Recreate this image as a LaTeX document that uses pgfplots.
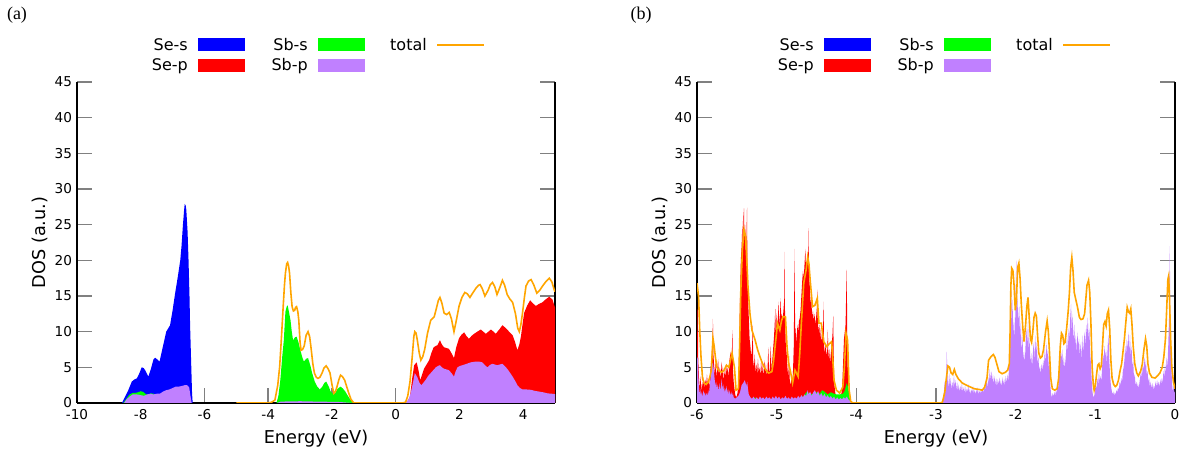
\documentclass[border=0pt]{standalone}
\usepackage{pgfplots}
\pgfplotsset{compat=1.18}
\usepackage{fontspec}
\setmainfont{DejaVu Sans}
\newfontfamily\panelfont{Liberation Serif}

\definecolor{cSes}{RGB}{0,0,255}
\definecolor{cSep}{RGB}{255,0,0}
\definecolor{cSbs}{RGB}{0,255,0}
\definecolor{cSbp}{RGB}{192,128,255}
\definecolor{cTot}{RGB}{255,165,0}
\definecolor{cTick}{RGB}{128,128,128}

\pgfplotsset{
  dosaxis/.style={
    scale only axis, width=478bp, height=321bp, anchor=south west,
    ymin=0, ymax=45, ytick={0,5,...,45},
    axis x line*=bottom, axis y line*=box,
    axis line style={black, line width=1.2bp},
    tick align=inside, major tick length=15bp,
    major tick style={cTick, line width=1.5bp},
    tick label style={font=\fontsize{13.6bp}{16bp}\selectfont},
    xticklabel style={yshift=-3bp},
    yticklabel style={xshift=-1.5bp},
    /pgf/number format/assume math mode=true,
    label style={font=\fontsize{17.7bp}{20bp}\selectfont},
    xlabel={Energy (eV)}, ylabel={DOS (a.u.)},
    xlabel style={yshift=-3bp},
  },
  pdos/.style={draw=none, fill=#1},
  tot/.style={cTot, line width=1.6bp},
}

\newcommand{\legendblock}[1]{%
  \begin{scope}[xshift=#1, font=\fontsize{16bp}{19bp}\selectfont]
    \node[anchor=east, inner sep=0pt] at (188bp,408bp) {Se-s};
    \node[anchor=east, inner sep=0pt] at (188bp,387bp) {Se-p};
    \fill[cSes] (198bp,401.5bp) rectangle (245bp,414.5bp);
    \fill[cSep] (198bp,380.5bp) rectangle (245bp,393.5bp);
    \node[anchor=east, inner sep=0pt] at (308bp,408bp) {Sb-s};
    \node[anchor=east, inner sep=0pt] at (308bp,387bp) {Sb-p};
    \fill[cSbs] (318bp,401.5bp) rectangle (365bp,414.5bp);
    \fill[cSbp] (318bp,380.5bp) rectangle (365bp,393.5bp);
    \node[anchor=east, inner sep=0pt] at (427bp,408bp) {total};
    \draw[cTot, line width=1.6bp] (437bp,408bp) -- (484bp,408bp);
  \end{scope}}

\begin{document}
\begin{tikzpicture}
\path[use as bounding box] (0,0) rectangle (1190bp,453bp);

% ---------------- panel (a) ----------------
\begin{axis}[dosaxis, at={(77bp,50bp)}, xmin=-10, xmax=5, xtick={-10,-8,...,4}]
% Se-s
\addplot[pdos=cSes] coordinates {(-8.59,0) (-8.50,0.8) (-8.39,1.8) (-8.28,3.0) (-8.20,3.3) (-8.12,3.45) (-8.04,4.2) (-7.97,5.0) (-7.91,4.9) (-7.86,4.6) (-7.76,3.7) (-7.68,4.8) (-7.60,6.1) (-7.55,6.35) (-7.48,6.1) (-7.41,5.8) (-7.30,8.0) (-7.20,10.0) (-7.08,10.9) (-7.00,13.0) (-6.92,15.4) (-6.84,17.6) (-6.76,20.0) (-6.72,22.0) (-6.68,24.7) (-6.64,27.0) (-6.62,27.9) (-6.59,27.7) (-6.57,27.1) (-6.53,24.0) (-6.50,20.0) (-6.47,15.0) (-6.45,10.7) (-6.42,6.0) (-6.39,1.4) (-6.37,0)} \closedcycle;
% Se-p
\addplot[pdos=cSep] coordinates {(0.31,0) (0.38,0.3) (0.45,0.9) (0.52,3.5) (0.58,5.3) (0.66,5.7) (0.72,4.5) (0.77,3.2) (0.83,4.0) (0.89,4.8) (0.97,5.4) (1.05,6.0) (1.12,7.0) (1.19,7.8) (1.26,8.0) (1.31,8.1) (1.39,8.8) (1.45,8.2) (1.52,7.8) (1.60,7.7) (1.67,7.6) (1.75,7.0) (1.83,6.3) (1.90,7.8) (1.99,9.1) (2.07,9.6) (2.15,9.9) (2.22,9.4) (2.30,9.0) (2.38,9.4) (2.46,9.7) (2.56,10.0) (2.67,10.3) (2.75,10.0) (2.83,9.7) (2.91,10.0) (2.99,10.3) (3.07,10.0) (3.14,9.7) (3.25,10.3) (3.35,10.9) (3.43,10.6) (3.50,10.3) (3.58,9.9) (3.67,9.5) (3.75,8.5) (3.82,7.4) (3.88,8.2) (3.93,9.3) (3.98,11.0) (4.03,12.6) (4.12,13.6) (4.22,14.4) (4.30,14.0) (4.40,13.6) (4.50,13.9) (4.60,14.1) (4.70,14.5) (4.82,14.9) (4.92,14.5) (5.0,13.4)} \closedcycle;
% Sb-s
\addplot[pdos=cSbs] coordinates {(-8.55,0) (-8.45,0.6) (-8.35,1.2) (-8.25,1.4) (-8.12,1.45) (-8.0,1.65) (-7.92,1.55) (-7.83,1.2) (-7.76,1.2) (-7.68,1.35) (-7.60,1.3) (-7.50,1.1) (-7.40,0)} \closedcycle;
\addplot[pdos=cSbs] coordinates {(-3.74,0) (-3.68,1.0) (-3.62,3.2) (-3.56,6.5) (-3.51,8.8) (-3.46,12.8) (-3.42,13.5) (-3.39,13.7) (-3.35,12.8) (-3.30,11.6) (-3.26,10.0) (-3.22,8.8) (-3.16,9.2) (-3.11,9.3) (-3.05,8.5) (-2.99,7.4) (-2.93,6.4) (-2.88,5.8) (-2.81,6.2) (-2.75,6.3) (-2.68,5.3) (-2.62,4.2) (-2.54,3.0) (-2.46,2.3) (-2.38,1.9) (-2.30,2.3) (-2.24,2.8) (-2.18,3.0) (-2.10,2.3) (-2.04,1.6) (-1.97,1.3) (-1.90,1.4) (-1.82,2.0) (-1.73,2.3) (-1.65,2.0) (-1.58,1.6) (-1.50,1.0) (-1.41,0.4) (-1.33,0)} \closedcycle;
% Sb-p
\addplot[pdos=cSbp] coordinates {(-8.52,0) (-8.45,0.5) (-8.35,0.9) (-8.25,1.2) (-8.12,1.2) (-8.0,1.1) (-7.9,1.0) (-7.8,1.2) (-7.7,1.3) (-7.6,1.2) (-7.5,1.3) (-7.4,1.3) (-7.3,1.6) (-7.2,1.8) (-7.1,1.9) (-7.0,2.1) (-6.9,2.3) (-6.8,2.3) (-6.7,2.4) (-6.62,2.5) (-6.55,2.5) (-6.48,2.2) (-6.44,1.0) (-6.40,0)} \closedcycle;
\addplot[pdos=cSbp] coordinates {(-3.72,0) (-3.6,0.2) (-3.0,0.25) (-2.5,0.2) (-1.8,0.15) (-1.35,0)} \closedcycle;
\addplot[pdos=cSbp] coordinates {(0.31,0) (0.40,0.5) (0.47,1.35) (0.55,3.0) (0.60,4.2) (0.68,3.6) (0.75,2.8) (0.81,2.5) (0.88,2.9) (0.95,3.3) (1.02,3.8) (1.10,4.2) (1.18,4.6) (1.26,5.0) (1.33,5.2) (1.39,5.3) (1.45,5.0) (1.52,4.8) (1.60,4.7) (1.67,4.6) (1.75,4.2) (1.83,3.7) (1.88,4.4) (1.94,5.0) (2.02,5.2) (2.10,5.3) (2.23,5.5) (2.36,5.7) (2.50,5.8) (2.62,5.8) (2.72,5.7) (2.80,5.3) (2.88,5.0) (2.95,5.3) (3.03,5.5) (3.11,5.4) (3.19,5.3) (3.27,5.4) (3.35,5.5) (3.42,5.2) (3.50,4.8) (3.58,4.3) (3.67,3.7) (3.75,3.1) (3.82,2.5) (3.90,2.1) (3.98,1.9) (4.10,1.9) (4.24,1.85) (4.37,1.7) (4.50,1.6) (4.63,1.5) (4.77,1.35) (4.90,1.3) (5.0,1.25)} \closedcycle;
% total
\addplot[tot] coordinates {(-5,0) (-4.0,0) (-3.90,0.1) (-3.79,0.4) (-3.70,2.5) (-3.64,5.1) (-3.58,9.5) (-3.53,13.5) (-3.49,16.5) (-3.46,18.2) (-3.42,19.5) (-3.39,19.7) (-3.36,19.2) (-3.33,18.2) (-3.29,15.5) (-3.25,13.5) (-3.21,12.9) (-3.17,13.0) (-3.14,13.4) (-3.11,13.5) (-3.07,12.8) (-3.04,11.6) (-3.00,8.5) (-2.97,7.4) (-2.92,7.5) (-2.87,8.0) (-2.81,9.5) (-2.75,10.0) (-2.70,9.3) (-2.66,7.9) (-2.60,5.5) (-2.55,4.2) (-2.49,3.6) (-2.44,3.45) (-2.38,3.6) (-2.31,4.2) (-2.25,4.9) (-2.18,5.2) (-2.12,4.8) (-2.06,4.2) (-2.00,2.6) (-1.94,1.35) (-1.89,1.6) (-1.84,2.3) (-1.78,3.3) (-1.73,3.9) (-1.67,3.7) (-1.60,3.2) (-1.53,2.2) (-1.47,1.35) (-1.40,0.5) (-1.31,0) (0.20,0) (0.31,0.1) (0.38,1.0) (0.45,3.0) (0.52,6.5) (0.57,9.3) (0.60,10.0) (0.64,9.8) (0.68,8.8) (0.74,7.0) (0.79,6.0) (0.85,6.5) (0.91,7.5) (1.00,9.8) (1.10,11.6) (1.21,12.1) (1.28,13.3) (1.34,14.4) (1.39,14.8) (1.45,14.0) (1.52,12.6) (1.60,12.4) (1.68,12.7) (1.75,11.8) (1.83,10.0) (1.90,11.5) (1.99,13.6) (2.08,14.8) (2.17,15.5) (2.25,15.3) (2.33,14.8) (2.43,15.5) (2.52,16.1) (2.60,16.5) (2.65,16.6) (2.72,16.0) (2.80,15.0) (2.90,15.8) (2.97,16.6) (3.04,16.9) (3.11,16.3) (3.18,15.2) (3.27,16.2) (3.35,17.2) (3.42,16.5) (3.50,15.2) (3.58,14.6) (3.67,14.1) (3.76,12.5) (3.83,10.5) (3.88,10.0) (3.93,11.0) (3.98,12.6) (4.04,14.8) (4.09,16.4) (4.17,17.1) (4.25,17.3) (4.33,16.6) (4.43,15.4) (4.52,15.8) (4.61,16.4) (4.71,17.0) (4.82,17.5) (4.90,17.0) (4.98,15.8) (5.0,15.6)};
\end{axis}

% ---------------- panel (b) ----------------
\begin{axis}[dosaxis, at={(697bp,50bp)}, xmin=-6, xmax=0, xtick={-6,-5,...,0}]
% Se-p
\addplot[pdos=cSep] coordinates {(-6.000,0) (-6.000,13.0) (-5.995,8.0) (-5.990,14.0) (-5.985,6.5) (-5.975,3.5) (-5.965,2.0) (-5.955,3.8) (-5.945,1.5) (-5.935,3.0) (-5.925,2.2) (-5.915,3.6) (-5.905,2.0) (-5.895,3.3) (-5.885,2.4) (-5.875,4.0) (-5.865,2.6) (-5.855,3.1) (-5.845,2.2) (-5.835,4.2) (-5.825,5.5) (-5.815,6.8) (-5.805,9.0) (-5.800,11.8) (-5.795,7.0) (-5.785,5.2) (-5.775,4.0) (-5.765,6.0) (-5.755,3.5) (-5.745,4.8) (-5.735,6.2) (-5.725,3.8) (-5.715,5.0) (-5.705,3.2) (-5.695,5.8) (-5.685,4.0) (-5.675,5.2) (-5.665,3.0) (-5.655,4.5) (-5.645,3.6) (-5.635,5.5) (-5.625,4.2) (-5.615,5.0) (-5.605,3.5) (-5.595,5.8) (-5.585,6.6) (-5.575,7.2) (-5.565,6.0) (-5.555,10.2) (-5.550,5.0) (-5.540,3.0) (-5.530,2.0) (-5.520,1.2) (-5.510,0.8) (-5.500,1.0) (-5.490,1.5) (-5.480,3.0) (-5.470,8.0) (-5.460,15.0) (-5.450,20.0) (-5.440,22.0) (-5.430,25.5) (-5.425,20.0) (-5.418,26.0) (-5.410,27.3) (-5.405,22.0) (-5.398,25.0) (-5.390,23.5) (-5.385,18.0) (-5.378,24.0) (-5.372,27.4) (-5.366,17.0) (-5.360,15.0) (-5.350,12.0) (-5.340,9.0) (-5.330,8.0) (-5.320,6.5) (-5.310,7.5) (-5.300,10.9) (-5.295,6.0) (-5.285,5.0) (-5.275,6.8) (-5.265,4.2) (-5.255,5.5) (-5.245,4.0) (-5.235,6.2) (-5.225,4.3) (-5.215,5.0) (-5.205,3.8) (-5.195,6.0) (-5.185,4.0) (-5.175,5.3) (-5.165,3.6) (-5.155,6.0) (-5.145,4.2) (-5.135,5.5) (-5.125,3.8) (-5.115,4.6) (-5.105,7.8) (-5.095,4.0) (-5.085,5.0) (-5.075,8.0) (-5.065,4.5) (-5.055,6.0) (-5.045,7.5) (-5.035,9.0) (-5.025,11.0) (-5.018,13.2) (-5.010,9.5) (-5.000,12.6) (-4.992,10.5) (-4.985,11.8) (-4.975,14.2) (-4.968,10.8) (-4.960,12.0) (-4.950,14.7) (-4.943,12.0) (-4.935,12.5) (-4.925,11.5) (-4.915,13.0) (-4.905,14.5) (-4.900,21.2) (-4.895,12.0) (-4.885,8.0) (-4.875,7.0) (-4.865,5.0) (-4.855,3.5) (-4.845,6.6) (-4.835,3.0) (-4.825,2.5) (-4.815,3.8) (-4.805,2.6) (-4.795,4.5) (-4.785,8.0) (-4.775,21.6) (-4.768,9.0) (-4.760,10.5) (-4.750,8.2) (-4.740,11.0) (-4.730,10.0) (-4.720,11.5) (-4.710,11.9) (-4.700,13.0) (-4.690,15.0) (-4.680,17.0) (-4.670,18.5) (-4.660,17.5) (-4.650,19.5) (-4.640,21.6) (-4.633,19.0) (-4.625,19.8) (-4.615,20.0) (-4.605,21.0) (-4.600,24.5) (-4.595,18.0) (-4.585,16.5) (-4.575,14.0) (-4.565,14.7) (-4.555,12.0) (-4.545,13.0) (-4.535,11.5) (-4.525,12.5) (-4.515,11.0) (-4.505,12.0) (-4.495,13.5) (-4.490,15.9) (-4.485,12.0) (-4.475,10.0) (-4.465,11.0) (-4.455,9.0) (-4.445,10.5) (-4.435,8.5) (-4.425,9.5) (-4.415,11.5) (-4.410,14.2) (-4.405,8.0) (-4.395,7.0) (-4.385,8.5) (-4.375,6.5) (-4.365,7.5) (-4.358,10.3) (-4.350,6.0) (-4.340,7.5) (-4.330,5.5) (-4.320,7.0) (-4.310,8.0) (-4.300,9.5) (-4.290,12.2) (-4.283,6.0) (-4.275,2.5) (-4.265,1.5) (-4.255,0.8) (-4.245,0.6) (-4.235,0.7) (-4.225,0.6) (-4.215,0.8) (-4.205,1.0) (-4.195,1.0) (-4.185,1.5) (-4.175,3.0) (-4.165,6.0) (-4.155,9.0) (-4.145,10.0) (-4.135,11.0) (-4.128,15.0) (-4.120,18.7) (-4.115,10.0) (-4.105,3.0) (-4.095,0.8) (-4.085,0.2) (-4.075,0.0)} \closedcycle;
% Sb-s
\addplot[pdos=cSbs] coordinates {(-5.32,0) (-5.30,0.4) (-5.27,0.8) (-5.25,0.3) (-5.20,0.4) (-4.80,0.4) (-4.70,0.6) (-4.66,1.0) (-4.62,1.6) (-4.58,1.2) (-4.55,1.3) (-4.50,1.5) (-4.46,1.3) (-4.43,1.8) (-4.40,1.6) (-4.36,1.2) (-4.32,1.5) (-4.28,1.3) (-4.25,1.2) (-4.21,1.2) (-4.17,1.3) (-4.15,1.6) (-4.13,2.4) (-4.12,2.8) (-4.10,2.0) (-4.08,0.5) (-4.07,0)} \closedcycle;
% Sb-p
\addplot[pdos=cSbp] coordinates {(-6.0,0) (-6.0,6.5) (-5.99,6.2) (-5.98,3.0) (-5.97,1.2) (-5.96,2.0) (-5.95,1.0) (-5.94,1.6) (-5.93,0.8) (-5.92,1.8) (-5.91,1.2) (-5.90,1.5) (-5.89,0.9) (-5.88,1.4) (-5.87,1.0) (-5.86,1.8) (-5.85,1.2) (-5.84,2.5) (-5.83,3.5) (-5.82,4.5) (-5.81,5.5) (-5.80,5.6) (-5.79,4.8) (-5.78,3.5) (-5.77,2.4) (-5.76,3.0) (-5.75,2.0) (-5.74,2.6) (-5.73,1.6) (-5.72,2.8) (-5.71,1.8) (-5.70,2.4) (-5.69,3.4) (-5.68,2.0) (-5.67,2.6) (-5.66,1.5) (-5.65,2.2) (-5.64,1.6) (-5.63,2.4) (-5.62,1.4) (-5.61,2.0) (-5.60,1.2) (-5.59,1.8) (-5.58,1.0) (-5.57,1.6) (-5.56,1.0) (-5.55,1.4) (-5.54,0.8) (-5.52,0.6) (-5.50,0.8) (-5.48,1.0) (-5.46,1.5) (-5.44,2.5) (-5.42,2.8) (-5.40,3.2) (-5.38,2.4) (-5.37,3.0) (-5.36,2.0) (-5.35,1.2) (-5.33,0.8) (-5.31,0.6) (-5.29,0.9) (-5.27,0.5) (-5.25,0.8) (-5.23,0.5) (-5.21,0.9) (-5.19,0.6) (-5.17,0.8) (-5.15,0.5) (-5.13,0.9) (-5.11,0.6) (-5.09,0.8) (-5.07,0.5) (-5.05,0.9) (-5.03,0.6) (-5.01,1.0) (-4.99,0.6) (-4.97,0.9) (-4.95,0.5) (-4.93,0.8) (-4.91,0.6) (-4.89,1.0) (-4.87,0.6) (-4.85,0.8) (-4.83,0.5) (-4.81,0.9) (-4.79,0.6) (-4.77,0.8) (-4.75,0.6) (-4.73,1.0) (-4.71,0.7) (-4.69,1.1) (-4.67,0.8) (-4.65,1.2) (-4.63,1.0) (-4.61,1.8) (-4.60,1.2) (-4.58,1.6) (-4.56,1.0) (-4.54,1.5) (-4.52,1.8) (-4.50,1.2) (-4.48,1.7) (-4.46,1.0) (-4.44,1.4) (-4.42,0.9) (-4.40,1.3) (-4.38,0.8) (-4.36,1.1) (-4.34,0.7) (-4.32,1.0) (-4.30,0.6) (-4.28,0.9) (-4.26,0.5) (-4.24,0.8) (-4.22,0.5) (-4.20,0.7) (-4.18,0.5) (-4.16,0.8) (-4.14,0.6) (-4.12,0.9) (-4.10,0.5) (-4.08,0.3) (-4.06,0)} \closedcycle;
\addplot[pdos=cSbp] coordinates {(-2.93,0) (-2.91,0.5) (-2.89,3.0) (-2.875,2.0) (-2.865,7.2) (-2.855,3.5) (-2.845,2.0) (-2.835,4.2) (-2.825,2.2) (-2.815,3.5) (-2.805,1.8) (-2.795,3.0) (-2.785,2.0) (-2.775,4.0) (-2.765,2.3) (-2.755,3.2) (-2.745,1.8) (-2.735,3.0) (-2.725,1.6) (-2.715,2.6) (-2.705,1.5) (-2.695,2.4) (-2.685,1.6) (-2.675,2.8) (-2.665,1.5) (-2.655,2.2) (-2.645,1.4) (-2.635,2.5) (-2.625,1.3) (-2.615,2.0) (-2.605,1.6) (-2.595,2.6) (-2.585,1.4) (-2.575,2.0) (-2.565,1.2) (-2.555,1.9) (-2.545,1.5) (-2.535,2.4) (-2.525,1.3) (-2.515,1.8) (-2.505,1.2) (-2.495,1.9) (-2.485,1.4) (-2.475,2.2) (-2.465,1.2) (-2.455,1.7) (-2.445,1.3) (-2.435,2.0) (-2.425,1.4) (-2.415,1.9) (-2.405,1.5) (-2.395,2.2) (-2.385,1.8) (-2.375,2.5) (-2.365,3.0) (-2.355,2.2) (-2.345,3.6) (-2.335,2.8) (-2.325,4.8) (-2.315,3.2) (-2.305,4.5) (-2.295,3.0) (-2.285,4.0) (-2.275,2.6) (-2.265,3.8) (-2.255,2.5) (-2.245,3.5) (-2.235,2.2) (-2.225,3.3) (-2.215,2.6) (-2.205,3.6) (-2.195,2.5) (-2.185,3.2) (-2.175,2.2) (-2.165,3.6) (-2.155,2.6) (-2.145,3.4) (-2.135,2.4) (-2.125,3.8) (-2.115,2.8) (-2.105,4.0) (-2.095,3.0) (-2.085,4.5) (-2.075,7.0) (-2.065,12.0) (-2.055,15.8) (-2.048,11.0) (-2.04,14.5) (-2.03,9.5) (-2.02,12.0) (-2.01,8.5) (-2.00,16.0) (-1.993,20.0) (-1.985,12.0) (-1.975,15.0) (-1.965,11.0) (-1.955,13.5) (-1.945,9.0) (-1.935,11.5) (-1.925,7.0) (-1.915,9.5) (-1.905,6.0) (-1.895,7.2) (-1.885,5.5) (-1.875,8.5) (-1.865,10.5) (-1.855,8.0) (-1.845,11.5) (-1.835,7.5) (-1.825,9.0) (-1.815,5.5) (-1.805,7.0) (-1.795,5.0) (-1.785,6.8) (-1.775,8.5) (-1.765,6.0) (-1.755,9.5) (-1.745,7.0) (-1.735,8.5) (-1.725,5.5) (-1.715,6.5) (-1.705,4.5) (-1.695,5.2) (-1.685,4.0) (-1.675,5.5) (-1.665,4.5) (-1.655,6.0) (-1.645,5.0) (-1.635,7.5) (-1.625,5.5) (-1.615,8.5) (-1.605,6.5) (-1.595,7.5) (-1.585,5.0) (-1.575,5.5) (-1.565,2.5) (-1.555,1.2) (-1.545,0.8) (-1.535,1.4) (-1.525,0.9) (-1.515,1.6) (-1.505,1.0) (-1.495,1.8) (-1.485,1.4) (-1.475,2.5) (-1.465,2.2) (-1.455,4.0) (-1.445,5.5) (-1.435,8.0) (-1.425,6.0) (-1.415,7.5) (-1.405,5.0) (-1.395,6.5) (-1.385,4.8) (-1.375,6.0) (-1.365,7.5) (-1.355,9.5) (-1.345,7.0) (-1.335,10.5) (-1.325,9.0) (-1.315,12.0) (-1.305,13.9) (-1.295,10.0) (-1.285,12.5) (-1.275,8.5) (-1.265,11.0) (-1.255,8.0) (-1.245,9.5) (-1.235,7.0) (-1.225,10.0) (-1.215,8.0) (-1.205,9.0) (-1.195,6.5) (-1.185,8.5) (-1.175,6.0) (-1.165,9.5) (-1.155,7.0) (-1.145,8.5) (-1.135,10.0) (-1.125,8.0) (-1.115,11.0) (-1.105,9.5) (-1.095,12.0) (-1.085,9.0) (-1.075,10.5) (-1.065,7.0) (-1.055,5.5) (-1.045,3.0) (-1.035,1.5) (-1.025,0.8) (-1.015,1.0) (-1.005,1.5) (-0.995,2.5) (-0.985,2.0) (-0.975,3.5) (-0.965,2.5) (-0.955,4.5) (-0.945,3.0) (-0.935,3.8) (-0.925,3.0) (-0.915,5.0) (-0.905,7.0) (-0.895,6.0) (-0.885,8.0) (-0.875,6.5) (-0.865,7.5) (-0.855,5.5) (-0.845,8.0) (-0.835,9.5) (-0.825,6.0) (-0.815,4.0) (-0.805,2.5) (-0.795,1.8) (-0.785,1.2) (-0.775,1.6) (-0.765,1.0) (-0.755,1.5) (-0.745,1.2) (-0.735,1.8) (-0.725,1.5) (-0.715,2.2) (-0.705,1.8) (-0.695,3.0) (-0.685,2.5) (-0.675,3.5) (-0.665,2.8) (-0.655,4.5) (-0.645,5.0) (-0.635,6.0) (-0.625,8.0) (-0.615,6.5) (-0.605,9.0) (-0.595,7.5) (-0.585,10.0) (-0.575,7.0) (-0.565,9.5) (-0.555,6.5) (-0.545,8.0) (-0.535,5.0) (-0.525,6.0) (-0.515,3.5) (-0.505,4.0) (-0.495,2.5) (-0.485,3.0) (-0.475,2.2) (-0.465,2.8) (-0.455,2.0) (-0.445,3.0) (-0.435,3.8) (-0.425,4.5) (-0.415,3.5) (-0.405,5.5) (-0.395,4.5) (-0.385,6.5) (-0.375,5.0) (-0.365,6.0) (-0.355,4.0) (-0.345,4.5) (-0.335,3.0) (-0.325,3.5) (-0.315,2.2) (-0.305,3.0) (-0.295,2.0) (-0.285,2.8) (-0.275,1.8) (-0.265,2.5) (-0.255,2.0) (-0.245,3.0) (-0.235,2.2) (-0.225,3.2) (-0.215,2.4) (-0.205,3.0) (-0.195,2.2) (-0.185,3.3) (-0.175,2.6) (-0.165,3.5) (-0.155,2.8) (-0.145,4.5) (-0.135,3.5) (-0.125,5.5) (-0.115,4.0) (-0.105,6.5) (-0.095,5.0) (-0.085,8.0) (-0.075,12.0) (-0.065,22.0) (-0.058,10.0) (-0.050,6.0) (-0.040,3.5) (-0.030,1.5) (-0.020,2.5) (-0.010,1.2) (0.000,2.0)} \closedcycle;
% total
\addplot[tot] coordinates {(-6.0,16.8) (-5.98,14.9) (-5.965,10.0) (-5.95,6.5) (-5.93,3.4) (-5.91,2.8) (-5.885,2.6) (-5.86,2.9) (-5.84,3.6) (-5.82,4.6) (-5.80,9.1) (-5.785,8.0) (-5.77,6.5) (-5.75,5.0) (-5.73,4.6) (-5.69,4.3) (-5.66,4.6) (-5.63,5.3) (-5.60,5.0) (-5.58,6.0) (-5.56,7.0) (-5.545,6.0) (-5.53,5.0) (-5.51,1.8) (-5.48,2.0) (-5.465,8.0) (-5.45,15.8) (-5.43,21.5) (-5.41,24.3) (-5.39,23.4) (-5.375,20.0) (-5.36,16.3) (-5.335,12.5) (-5.31,10.2) (-5.27,8.8) (-5.24,7.5) (-5.21,6.5) (-5.18,5.6) (-5.15,4.9) (-5.12,4.4) (-5.10,4.2) (-5.06,4.4) (-5.04,5.8) (-5.02,7.9) (-5.00,10.0) (-4.99,11.2) (-4.97,10.5) (-4.96,10.2) (-4.94,11.5) (-4.92,12.1) (-4.89,12.1) (-4.87,7.9) (-4.85,5.5) (-4.83,4.6) (-4.80,2.8) (-4.77,4.6) (-4.73,3.7) (-4.71,7.0) (-4.69,11.2) (-4.66,16.8) (-4.63,18.7) (-4.61,20.5) (-4.595,19.5) (-4.58,17.3) (-4.55,13.5) (-4.52,13.7) (-4.49,14.7) (-4.47,11.2) (-4.44,11.2) (-4.41,8.6) (-4.37,7.9) (-4.34,8.3) (-4.31,8.6) (-4.295,6.0) (-4.28,3.2) (-4.25,1.8) (-4.21,1.4) (-4.17,2.2) (-4.15,5.0) (-4.13,9.8) (-4.11,8.8) (-4.09,1.8) (-4.07,0.2) (-4.04,0) (-2.95,0) (-2.92,0.1) (-2.89,1.5) (-2.87,3.5) (-2.85,5.2) (-2.83,5.0) (-2.81,4.2) (-2.79,4.0) (-2.77,4.7) (-2.75,4.0) (-2.72,3.4) (-2.67,2.8) (-2.60,2.4) (-2.52,2.0) (-2.46,1.9) (-2.42,1.8) (-2.39,2.2) (-2.36,3.5) (-2.34,6.0) (-2.31,6.5) (-2.28,6.8) (-2.26,6.4) (-2.24,5.6) (-2.21,4.4) (-2.17,4.1) (-2.13,4.3) (-2.10,4.6) (-2.08,5.5) (-2.07,10.0) (-2.06,16.5) (-2.05,18.9) (-2.035,18.6) (-2.02,16.5) (-2.005,13.0) (-1.99,14.5) (-1.975,19.0) (-1.96,19.6) (-1.945,17.5) (-1.93,14.0) (-1.91,10.5) (-1.895,8.6) (-1.875,11.0) (-1.86,13.5) (-1.845,14.8) (-1.83,12.0) (-1.815,9.0) (-1.80,8.5) (-1.785,10.0) (-1.77,12.0) (-1.755,12.6) (-1.74,12.2) (-1.725,9.5) (-1.71,7.0) (-1.69,6.3) (-1.67,6.5) (-1.65,7.5) (-1.625,10.0) (-1.605,11.5) (-1.59,10.0) (-1.575,7.0) (-1.56,3.5) (-1.54,2.0) (-1.51,1.8) (-1.48,2.0) (-1.46,3.5) (-1.44,8.0) (-1.425,9.8) (-1.41,9.5) (-1.395,8.3) (-1.38,8.5) (-1.36,10.5) (-1.34,13.0) (-1.325,15.5) (-1.31,19.0) (-1.295,20.4) (-1.28,18.5) (-1.265,15.5) (-1.245,14.5) (-1.225,13.5) (-1.20,12.0) (-1.18,11.7) (-1.155,11.8) (-1.135,12.5) (-1.12,14.5) (-1.105,16.5) (-1.085,17.2) (-1.07,15.5) (-1.055,11.0) (-1.04,5.0) (-1.025,2.5) (-1.015,1.8) (-1.00,2.5) (-0.985,4.0) (-0.97,5.3) (-0.955,5.5) (-0.94,4.8) (-0.925,5.2) (-0.91,8.0) (-0.895,11.0) (-0.88,11.4) (-0.865,10.8) (-0.85,12.5) (-0.835,13.0) (-0.82,10.5) (-0.805,6.0) (-0.79,3.5) (-0.77,2.6) (-0.75,2.3) (-0.73,2.5) (-0.71,3.2) (-0.69,4.5) (-0.67,5.5) (-0.655,7.0) (-0.635,9.0) (-0.62,11.0) (-0.60,13.4) (-0.585,12.8) (-0.57,12.6) (-0.555,13.2) (-0.54,11.0) (-0.525,8.0) (-0.505,5.5) (-0.48,4.2) (-0.46,3.8) (-0.43,4.5) (-0.41,5.5) (-0.39,7.5) (-0.37,9.0) (-0.355,8.0) (-0.34,5.5) (-0.32,4.2) (-0.29,3.6) (-0.25,3.5) (-0.22,3.8) (-0.19,4.2) (-0.16,5.0) (-0.14,6.5) (-0.12,9.0) (-0.105,13.0) (-0.09,17.3) (-0.08,17.8) (-0.07,15.0) (-0.055,9.0) (-0.04,5.0) (-0.02,3.0) (0.00,2.0)};
\end{axis}

% legends
\legendblock{0bp}
\legendblock{626bp}

% panel letters
\node[font=\panelfont\fontsize{18bp}{21bp}\selectfont, anchor=center] at (17bp,438bp) {(a)};
\node[font=\panelfont\fontsize{18bp}{21bp}\selectfont, anchor=center] at (641bp,438bp) {(b)};
\end{tikzpicture}
\end{document}
